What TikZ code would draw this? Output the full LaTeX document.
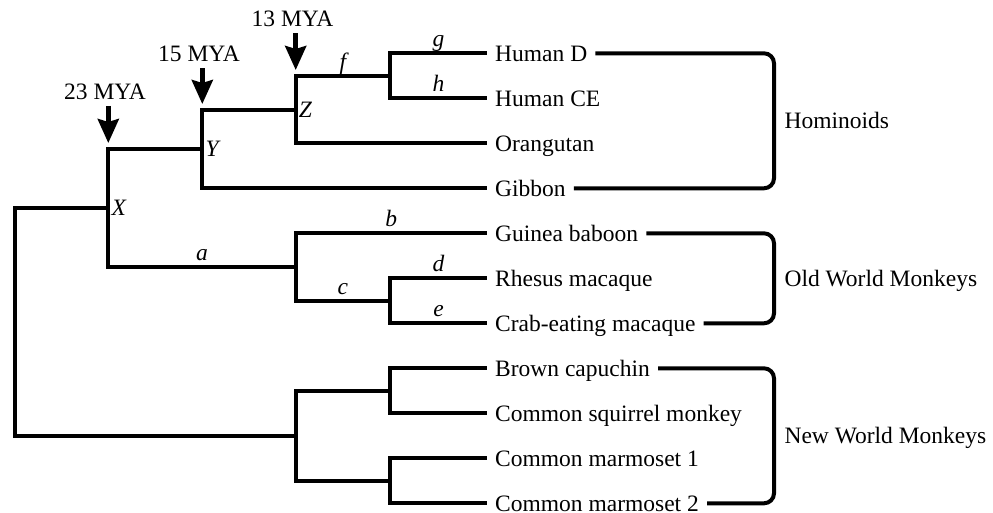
\documentclass[tikz,border=0pt]{standalone}
\usepackage{fontspec}
\setmainfont{Liberation Serif}
\usetikzlibrary{arrows.meta,positioning}

\newcommand{\schrift}{\fontsize{23.5}{28}\selectfont}

\begin{document}
\begin{tikzpicture}[x=1pt,y=-1pt,
	ast/.style={line width=4pt, line join=miter},
	klammer/.style={line width=4pt, rounded corners=10pt},
	pfeil/.style={line width=4.5pt, shorten <=3pt, -{Stealth[length=24pt,width=21pt,inset=3pt]}},
	blatt/.style={anchor=west, inner xsep=8pt, inner ysep=0pt, text height=15.5pt, text depth=0pt, font=\schrift},
	zweig/.style={pos=0.75, anchor=base, yshift=6.5pt, inner sep=0pt, font=\schrift\itshape},
	knoten/.style={anchor=west, xshift=3pt, inner sep=0pt, text height=15.5pt, text depth=0pt, font=\schrift\itshape},
	gruppe/.style={anchor=west, text height=15.5pt, text depth=0pt, font=\schrift},
	zeit/.style={anchor=base, font=\schrift}]

	% Rahmen
	\useasboundingbox (0,0) rectangle (993,512);

	% Blaetter
	\node[blatt] (hd)  at (487,53.3)  {Human D};
	\node[blatt] (hce) at (487,98.3)  {Human CE};
	\node[blatt] (ora) at (487,143.3) {Orangutan};
	\node[blatt] (gib) at (487,188.3) {Gibbon};
	\node[blatt] (gb)  at (487,233.3) {Guinea baboon};
	\node[blatt] (rm)  at (487,278.3) {Rhesus macaque};
	\node[blatt] (cm)  at (487,323.3) {Crab-eating macaque};
	\node[blatt] (bc)  at (487,368.3) {Brown capuchin};
	\node[blatt] (csm) at (487,413.3) {Common squirrel monkey};
	\node[blatt] (cm1) at (487,458.3) {Common marmoset 1};
	\node[blatt] (cm2) at (487,503.3) {Common marmoset 2};

	% Innere Knoten
	\coordinate (hum)  at (390,75.8);
	\coordinate (Z)    at (295.7,109.6);
	\coordinate (Y)    at (202.3,149);
	\coordinate (mac)  at (390,300.8);
	\coordinate (owm)  at (295.7,267);
	\coordinate (X)    at (108.3,208);
	\coordinate (ceb)  at (390,390.8);
	\coordinate (mar)  at (390,480.8);
	\coordinate (nwm)  at (295.7,435.8);
	\coordinate (root) at (15,322);

	% Hominoiden
	\draw[ast] (hum) |- (hd.west) node[zweig] {g};
	\draw[ast] (hum) |- (hce.west) node[zweig] {h};
	\draw[ast] (Z) |- (hum) node[zweig] {f};
	\draw[ast] (Z) |- (ora.west);
	\draw[ast] (Y) |- (Z);
	\draw[ast] (Y) |- (gib.west);

	% Altweltaffen
	\draw[ast] (mac) |- (rm.west) node[zweig] {d};
	\draw[ast] (mac) |- (cm.west) node[zweig] {e};
	\draw[ast] (owm) |- (gb.west) node[zweig] {b};
	\draw[ast] (owm) |- (mac) node[zweig] {c};
	\draw[ast] (X) |- (Y);
	\draw[ast] (X) |- (owm) node[zweig] {a};

	% Neuweltaffen
	\draw[ast] (ceb) |- (bc.west);
	\draw[ast] (ceb) |- (csm.west);
	\draw[ast] (mar) |- (cm1.west);
	\draw[ast] (mar) |- (cm2.west);
	\draw[ast] (nwm) |- (ceb);
	\draw[ast] (nwm) |- (mar);

	% Wurzel
	\draw[ast] (root) |- (X);
	\draw[ast] (root) |- (nwm);

	% Knotenbeschriftung
	\node[knoten] (lx) at (X) {X};
	\node[knoten] (ly) at (Y) {Y};
	\node[knoten] (lz) at (Z) {Z};

	% Zeitmarken
	\coordinate (tz) at (295.7,70);
	\coordinate (ty) at (202.3,104);
	\coordinate (tx) at (108.3,143);
	\node[zeit] (m13) at (292.5,26.7) {13 MYA};
	\node[zeit] (m15) at (199,61.7)   {15 MYA};
	\node[zeit] (m23) at (105,99)     {23 MYA};
	\draw[pfeil] (m13.south -| tz) -- (tz);
	\draw[pfeil] (m15.south -| ty) -- (ty);
	\draw[pfeil] (m23.south -| tx) -- (tx);

	% Gruppen
	\coordinate (homb) at (774,120.8);
	\coordinate (owmb) at (774,278.3);
	\coordinate (nwmb) at (774,435.8);
	\node[gruppe, right=7pt of homb] (hom) {Hominoids};
	\node[gruppe, right=7pt of owmb] (old) {Old World Monkeys};
	\node[gruppe, right=7pt of nwmb] (new) {New World Monkeys};
	\draw[klammer] (hd.east) -- (hd.east -| homb) -- (gib.east -| homb) -- (gib.east);
	\draw[klammer] (gb.east) -- (gb.east -| owmb) -- (cm.east -| owmb) -- (cm.east);
	\draw[klammer] (bc.east) -- (bc.east -| nwmb) -- (cm2.east -| nwmb) -- (cm2.east);

\end{tikzpicture}
\end{document}
